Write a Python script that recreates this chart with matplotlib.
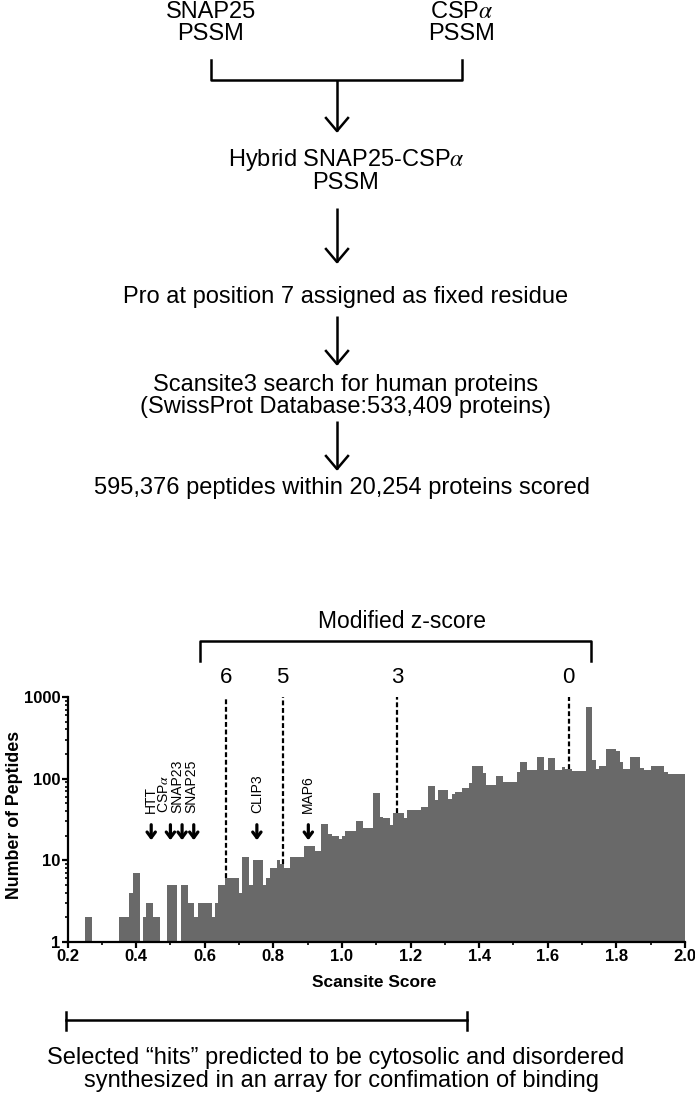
import numpy as np
import matplotlib
matplotlib.use("Agg")
from matplotlib import pyplot as plt

plt.rcParams['font.family'] = ['Liberation Sans', 'DejaVu Sans']
plt.rcParams['mathtext.fontset'] = 'stix'

#------------------------------ DATA ------------------------------------------

# histogram of scansite scores, bins of 0.01 from 0.20 to 2.00
bin_start = 0.20
bin_width = 0.01
counts = np.array([
    0, 0, 0, 0, 0, 2, 2, 0, 0, 0,
    0, 0, 0, 0, 0, 2, 2, 2, 4, 7,
    7, 0, 2, 3, 3, 2, 2, 0, 0, 5,
    5, 5, 0, 5, 5, 3, 3, 2, 3, 3,
    3, 3, 2, 3, 5, 5, 6, 6, 6, 6,
    4, 11, 11, 5, 10, 10, 10, 5, 6, 8,
    8, 10, 9, 8, 8, 11, 11, 11, 11, 15,
    15, 15, 13, 13, 28, 28, 21, 20, 20, 18,
    20, 23, 23, 23, 30, 30, 25, 25, 25, 67,
    67, 34, 33, 33, 27, 38, 38, 38, 33, 41,
    41, 41, 41, 45, 45, 81, 81, 55, 72, 72,
    72, 57, 65, 69, 69, 76, 76, 89, 142, 142,
    142, 118, 83, 83, 83, 108, 108, 92, 92, 92,
    92, 121, 161, 161, 127, 127, 127, 185, 185, 127,
    177, 177, 127, 127, 139, 133, 133, 125, 125, 125,
    125, 750, 750, 169, 133, 142, 142, 228, 228, 228,
    219, 161, 130, 130, 185, 185, 185, 137, 127, 127,
    142, 142, 142, 142, 121, 113, 113, 113, 113, 113,
])
edges = bin_start + bin_width * np.arange(len(counts) + 1)

# modified z-score cut offs on the score axis
z_labels = ['6', '5', '3', '0']
z_scores = [0.662, 0.827, 1.160, 1.661]
z_bracket = [0.585, 1.726]

# proteins marked with arrows
genes = ['HTT', 'CSP$\\alpha$', 'SNAP23', 'SNAP25', 'CLIP3', 'MAP6']
gene_scores = [0.444, 0.500, 0.534, 0.568, 0.752, 0.902]
gene_label_x = [0.444, 0.481, 0.521, 0.560, 0.752, 0.902]

# selected hits range
hits_range = [0.195, 1.365]

bar_color = '#696969'
W, H = 695, 1099

fig = plt.figure(figsize=(W / 100, H / 100), dpi=100)

#------------------------------ FLOW CHART ------------------------------------
bg = fig.add_axes([0, 0, 1, 1])
bg.set_xlim(0, W)
bg.set_ylim(H, 0)
bg.axis('off')

fs = 17
lw = 1.8


def down_arrow(x, y0, y1):
    bg.plot([x, x], [y0, y1], color='k', lw=lw, solid_capstyle='butt')
    bg.plot([x - 11, x, x + 11], [y1 - 13, y1, y1 - 13], color='k', lw=lw)


bg.text(211, 12, 'SNAP25', fontsize=fs, ha='center', va='center')
bg.text(211, 34, 'PSSM', fontsize=fs, ha='center', va='center')
bg.text(462, 12, 'CSP$\\alpha$', fontsize=fs, ha='center', va='center')
bg.text(462, 34, 'PSSM', fontsize=fs, ha='center', va='center')
bg.plot([211, 211, 462, 462], [60, 80, 80, 60], color='k', lw=lw)
down_arrow(337, 80, 131)

bg.text(346, 160, 'Hybrid SNAP25-CSP$\\alpha$', fontsize=fs, ha='center',
        va='center')
bg.text(346, 183, 'PSSM', fontsize=fs, ha='center', va='center')
down_arrow(337, 208, 262)

bg.text(346, 297, 'Pro at position 7 assigned as fixed residue', fontsize=fs,
        ha='center', va='center')
down_arrow(337, 316, 364)

bg.text(346, 385, 'Scansite3 search for human proteins', fontsize=fs,
        ha='center', va='center')
bg.text(346, 407, '(SwissProt Database:533,409 proteins)', fontsize=fs,
        ha='center', va='center')
down_arrow(337, 421, 469)

bg.text(342, 488, '595,376 peptides within 20,254 proteins scored', fontsize=fs,
        ha='center', va='center')

#------------------------------ HISTOGRAM -------------------------------------
ax = fig.add_axes([67.5 / W, (H - 942) / H, 617.5 / W, 245 / H])
ax.stairs(np.clip(counts, 1, None), edges, baseline=1, fill=True,
          color=bar_color, lw=0)
ax.set_yscale('log')
ax.set_ylim(1, 1000)
ax.set_xlim(0.2, 2.0)

for s in ['top', 'right']:
    ax.spines[s].set_visible(False)
for s in ['left', 'bottom']:
    ax.spines[s].set_linewidth(1.6)

ax.set_xticks(np.arange(0.2, 2.01, 0.2))
ax.set_xticklabels(['%.1f' % v for v in np.arange(0.2, 2.01, 0.2)])
ax.set_xticks(np.arange(0.3, 2.0, 0.2), minor=True)
ax.set_yticks([1, 10, 100, 1000])
ax.set_yticklabels(['1', '10', '100', '1000'])
ax.tick_params(which='major', length=4, width=1.6, labelsize=12, pad=1)
ax.tick_params(which='minor', length=2.5, width=1.2)
for lab in ax.get_xticklabels() + ax.get_yticklabels():
    lab.set_fontweight('bold')

ax.set_xlabel('Scansite Score', fontsize=12.5, fontweight='bold')
ax.xaxis.set_label_coords(0.497, -0.133)
ax.set_ylabel('Number of Peptides', fontsize=12.8, fontweight='bold')
ax.yaxis.set_label_coords(-0.072, 0.518)

# dashed z-score lines from the top of the axis down to the bars
tr = ax.get_xaxis_transform()
for lab, z in zip(z_labels, z_scores):
    top_of_bar = counts[int((z - bin_start) / bin_width)]
    ax.vlines(z, top_of_bar, 1000, colors='k', linestyles=(0, (2.2, 1.2)),
              lw=1.6)
    ax.text(z, 1.078, lab, transform=tr, fontsize=16, ha='center', va='center')

ax.plot([z_bracket[0], z_bracket[0], z_bracket[1], z_bracket[1]],
        [1.145, 1.23, 1.23, 1.145], transform=tr, color='k', lw=lw,
        clip_on=False)
ax.text(np.mean(z_bracket) + 0.02, 1.307, 'Modified z-score', transform=tr,
        fontsize=16.5, ha='center', va='center')

for g, gx, lx in zip(genes, gene_scores, gene_label_x):
    ax.annotate('', xy=(gx, 0.404), xytext=(gx, 0.49),
                xycoords=('data', 'axes fraction'),
                arrowprops=dict(arrowstyle='->,head_length=0.4,head_width=0.3',
                                color='k', lw=2.3))
    ax.text(lx, 0.527, g, transform=tr, rotation=90, fontsize=10,
            ha='center', va='bottom')

#------------------------------ SELECTED HITS ---------------------------------
ax.plot([hits_range[0], hits_range[0]], [-0.284, -0.359], transform=tr,
        color='k', lw=lw, clip_on=False)
ax.plot([hits_range[1], hits_range[1]], [-0.284, -0.359], transform=tr,
        color='k', lw=lw, clip_on=False)
ax.plot(hits_range, [-0.318, -0.318], transform=tr, color='k', lw=lw,
        clip_on=False)

bg.text(336, 1058, 'Selected \u201chits\u201d predicted to be cytosolic and disordered',
        fontsize=fs, ha='center', va='center')
bg.text(341, 1081, 'synthesized in an array for confimation of binding',
        fontsize=fs, ha='center', va='center')

fig.savefig('out.png', dpi=100)
